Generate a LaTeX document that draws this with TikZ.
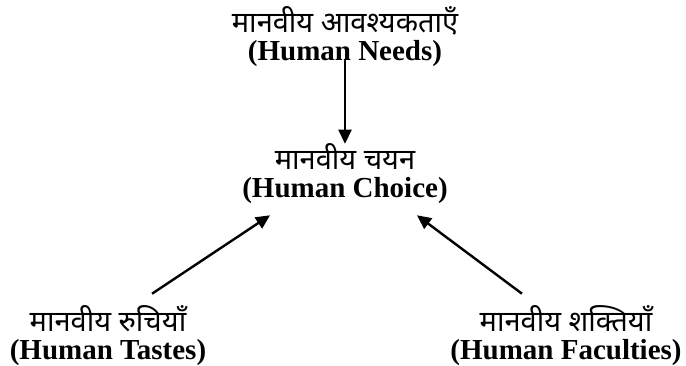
\documentclass[tikz,border=0pt]{standalone}
\usepackage{fontspec}
\setmainfont{Liberation Serif}
\newfontfamily\hindi[Script=Devanagari]{Noto Sans}
\usetikzlibrary{arrows.meta, positioning}
\tikzset{every node/.style={font=\fontsize{29}{28}\selectfont\bfseries}}
\newcommand{\hin}[1]{{\hindi\mdseries\fontsize{29}{28}\selectfont #1}}

\begin{document}
\begin{tikzpicture}[x=1pt, y=-1pt,
    lbl/.style={align=center, inner sep=0pt},
    arr/.style={line width=2.4pt, -{Triangle[length=14pt, width=13pt]}}]
  \useasboundingbox (0,0) rectangle (686,365);
  \node[lbl] (needs) at (345,37) {\hin{मानवीय आवश्यकताएँ}\\(Human Needs)};
  \node[lbl] (choice) at (345,174) {\hin{मानवीय चयन}\\(Human Choice)};
  \node[lbl] (tastes) at (108,336) {\hin{मानवीय रुचियाँ}\\(Human Tastes)};
  \node[lbl] (faculties) at (566,336) {\hin{मानवीय शक्तियाँ}\\(Human Faculties)};
  \draw[arr] ([yshift=7pt]needs.south) -- (choice.north);
  \draw[arr] ([xshift=44pt, yshift=12pt]tastes.north) -- ([xshift=-75pt, yshift=-11pt]choice.south);
  \draw[arr] ([xshift=-44pt, yshift=12pt]faculties.north) -- ([xshift=72pt, yshift=-11pt]choice.south);
\end{tikzpicture}
\end{document}
